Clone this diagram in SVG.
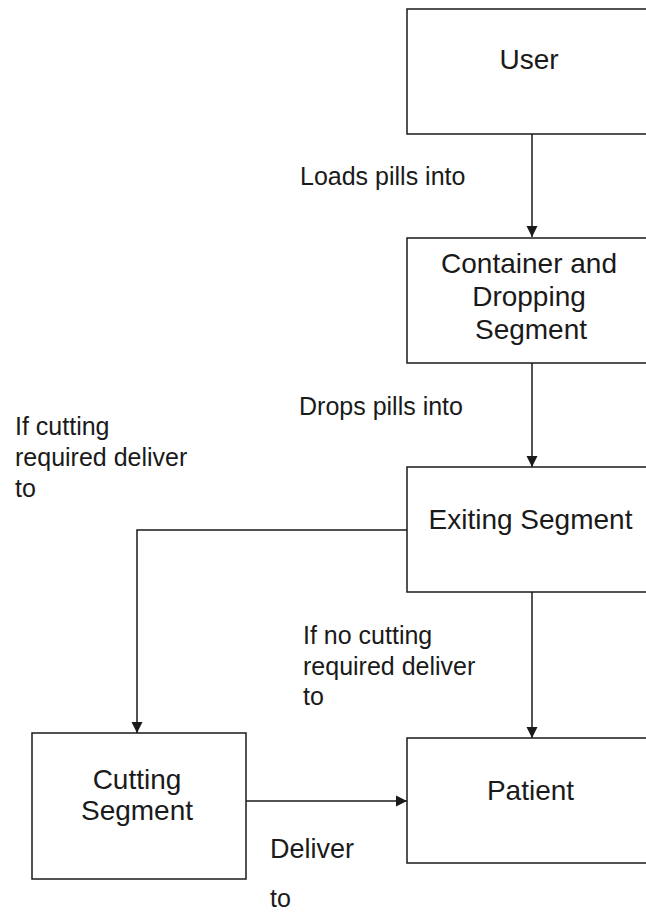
<svg xmlns="http://www.w3.org/2000/svg" width="646" height="912" viewBox="0 0 646 912">
<style>
.box{fill:#fff;stroke:#1a1a1a;stroke-width:1.5}
.bt{font-family:"Liberation Sans",Arial,sans-serif;font-size:28px;fill:#1a1a1a;text-anchor:middle}
.lt{font-family:"Liberation Sans",Arial,sans-serif;font-size:25px;fill:#1a1a1a}
.con{fill:none;stroke:#1a1a1a;stroke-width:1.5}
</style>
<defs>
<marker id="arr" markerWidth="12" markerHeight="12" viewBox="0 0 12 12" refX="11" refY="6" orient="auto" markerUnits="userSpaceOnUse">
<path d="M0,0.5 L11,6 L0,11.5 Z" fill="#1a1a1a"/>
</marker>
</defs>
<rect width="646" height="912" fill="#fff"/>
<g id="connectors">
<path class="con" d="M532,134 V237" marker-end="url(#arr)"/>
<path class="con" d="M532,363 V467" marker-end="url(#arr)"/>
<path class="con" d="M407,530 H137 V733" marker-end="url(#arr)"/>
<path class="con" d="M532,592 V738" marker-end="url(#arr)"/>
<path class="con" d="M246,801 H407" marker-end="url(#arr)"/>
</g>
<g id="user">
<rect class="box" x="407" y="9" width="250" height="125"/>
<text class="bt" x="529" y="69">User</text>
</g>
<g id="container">
<rect class="box" x="407" y="238" width="250" height="125"/>
<text class="bt" x="529" y="273">Container and</text>
<text class="bt" x="529" y="306">Dropping</text>
<text class="bt" x="531" y="339">Segment</text>
</g>
<g id="exiting">
<rect class="box" x="407" y="467" width="250" height="125"/>
<text class="bt" x="530.5" y="529">Exiting Segment</text>
</g>
<g id="cutting">
<rect class="box" x="32" y="733" width="214" height="146"/>
<text class="bt" x="137" y="789">Cutting</text>
<text class="bt" x="137" y="820">Segment</text>
</g>
<g id="patient">
<rect class="box" x="407" y="738" width="250" height="125"/>
<text class="bt" x="530.5" y="800">Patient</text>
</g>
<g id="labels">
<text class="lt" x="300" y="185">Loads pills into</text>
<text class="lt" x="299" y="415">Drops pills into</text>
<text class="lt" x="15" y="435">If cutting</text>
<text class="lt" x="15" y="466">required deliver</text>
<text class="lt" x="15" y="497">to</text>
<text class="lt" x="303" y="644">If no cutting</text>
<text class="lt" x="303" y="675">required deliver</text>
<text class="lt" x="303" y="705">to</text>
<text class="lt" x="270" y="858" style="font-size:27px">Deliver</text>
<text class="lt" x="270" y="907">to</text>
</g>
</svg>
